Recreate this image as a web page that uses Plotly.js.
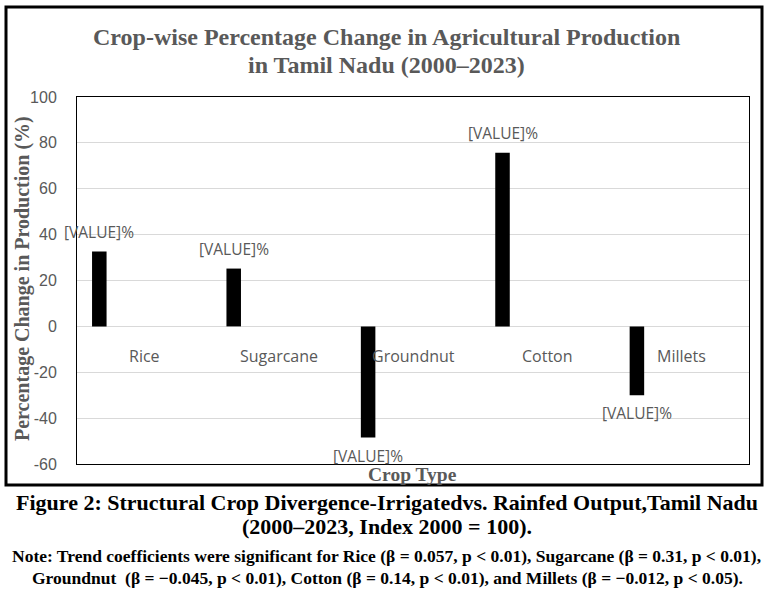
<!DOCTYPE html>
<html>
<head>
<meta charset="utf-8">
<script src="https://cdn.plot.ly/plotly-3.0.1.min.js"></script>
<style>
  html, body { margin: 0; padding: 0; background: #fff; }
  #chart { width: 769px; height: 601px; }
</style>
</head>
<body>
<div id="chart"></div>
<script>
const crops = ["Rice", "Sugarcane", "Groundnut", "Cotton", "Millets"];
const changePct = [32.6, 25.2, -48.5, 75.7, -30];
const labelText = ["[VALUE]%", "[VALUE]%", "[VALUE]%", "[VALUE]%", "[VALUE]%"];
const yTicks = [-60, -40, -20, 0, 20, 40, 60, 80, 100];

// plot area in pixels, used to place the captions round the chart
const PLOT = { l: 77, r: 749, t: 97, b: 464 };
const px = (x) => (x - PLOT.l) / (PLOT.r - PLOT.l);
const py = (y) => (PLOT.b - y) / (PLOT.b - PLOT.t);

const GREY = "#595959";
const SERIF = "'Liberation Serif', 'Times New Roman', serif";
const SANS = "'Liberation Sans', Arial, sans-serif";
const LABEL = "'Open Sans', 'Noto Sans', sans-serif";

const BAR_OFFSET = -0.388;
const BAR_WIDTH = 0.108;
const barCentre = (i) => i + BAR_OFFSET + BAR_WIDTH / 2;

const trace = {
  type: "bar",
  x: crops.map((_, i) => i),
  y: changePct,
  offset: BAR_OFFSET,
  width: BAR_WIDTH,
  marker: { color: "#000000" },
  hoverinfo: "skip",
};

const valueLabels = changePct.map((v, i) => ({
  x: barCentre(i),
  y: v,
  xref: "x",
  yref: "y",
  text: labelText[i],
  showarrow: false,
  yanchor: "middle",
  yshift: v >= 0 ? 20 : -18,
  borderpad: 0,
  font: { family: LABEL, size: 15.5, color: GREY },
}));

const crossLabels = crops.map((name, i) => ({
  x: i,
  y: -12.7,
  xref: "x",
  yref: "y",
  text: name,
  showarrow: false,
  font: { family: LABEL, size: 16, color: GREY },
}));

const paperText = (text, x, y, size, color, extra = {}) => ({
  x: px(x),
  y: py(y),
  xref: "paper",
  yref: "paper",
  text,
  showarrow: false,
  xanchor: "center",
  yanchor: "middle",
  borderpad: 0,
  font: { family: SERIF, size, color },
  ...extra,
});

const captions = [
  paperText("<b>Crop-wise Percentage Change in Agricultural Production</b>", 386, 37, 24, GREY),
  paperText("<b>in Tamil Nadu (2000–2023)</b>", 386, 65, 24, GREY),
  paperText("<b>Crop Type</b>", 412, 475, 19.5, GREY),
  paperText("<b>Percentage Change in Production (%)</b>", 22, 279, 20, GREY, { textangle: -90 }),
  paperText("<b>Figure 2: Structural Crop Divergence-Irrigatedvs. Rainfed Output,Tamil Nadu</b>", 387, 503, 22, "#000"),
  paperText("<b>(2000–2023, Index 2000 = 100).</b>", 387, 526, 22, "#000"),
  paperText("<b>Note: Trend coefficients were significant for Rice (β = 0.057, p < 0.01), Sugarcane (β = 0.31, p < 0.01),</b>", 386, 556, 17.5, "#000"),
  paperText("<b>Groundnut  (β = −0.045, p < 0.01), Cotton (β = 0.14, p < 0.01), and Millets (β = −0.012, p < 0.05).</b>", 387, 578, 17.5, "#000"),
];

const layout = {
  width: 769,
  height: 601,
  margin: { l: PLOT.l, r: 769 - PLOT.r, t: PLOT.t, b: 601 - PLOT.b, pad: 0 },
  paper_bgcolor: "#ffffff",
  plot_bgcolor: "#ffffff",
  showlegend: false,
  xaxis: {
    range: [-0.5, crops.length - 0.5],
    showticklabels: false,
    showgrid: false,
    zeroline: false,
    showline: true,
    mirror: true,
    linecolor: "#000",
    linewidth: 1,
    ticks: "",
    fixedrange: true,
  },
  yaxis: {
    range: [-60, 100],
    tickvals: yTicks,
    ticktext: yTicks.map(String),
    ticks: "",
    ticklabelstandoff: 16,
    tickfont: { family: SANS, size: 16, color: GREY },
    showgrid: true,
    gridcolor: "#d9d9d9",
    gridwidth: 1,
    zeroline: true,
    zerolinecolor: "#d9d9d9",
    zerolinewidth: 1,
    showline: true,
    mirror: true,
    linecolor: "#000",
    linewidth: 1,
    fixedrange: true,
  },
  shapes: [
    {
      type: "rect",
      xref: "paper",
      yref: "paper",
      x0: px(6),
      x1: px(762),
      y0: py(485),
      y1: py(7),
      line: { color: "#000", width: 3 },
      fillcolor: "rgba(0,0,0,0)",
      layer: "above",
    },
  ],
  annotations: [...valueLabels, ...crossLabels, ...captions],
};

Plotly.newPlot("chart", [trace], layout, { displayModeBar: false, staticPlot: true });
</script>
</body>
</html>
